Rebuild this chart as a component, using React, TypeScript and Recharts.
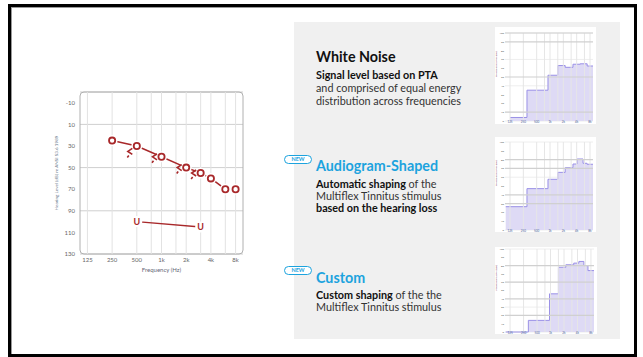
import React from 'react';
import {
  ComposedChart,
  AreaChart,
  Area,
  Line,
  Scatter,
  XAxis,
  YAxis,
  CartesianGrid,
  ReferenceLine,
  ReferenceArea,
  Label,
} from 'recharts';

// audiogram axes
const freqTicks = [125, 250, 500, 1000, 2000, 4000, 8000];
const freqTickLabels = ['125', '250', '500', '1k', '2k', '4k', '8k'];
const gridFreqs = [125, 250, 500, 750, 1000, 1500, 2000, 3000, 4000, 6000, 8000];
const levelTicks = [-10, 10, 30, 50, 70, 90, 110, 130];

// right ear air conduction (O)
const airFreqs = [250, 500, 1000, 2000, 3000, 4000, 6000, 8000];
const airLevels = [25, 30, 40, 50, 55, 60, 70, 70];
// bone conduction (<)
const boneFreqs = [500, 1000, 2000, 3000];
const boneLevels = [35, 40, 50, 55];
// uncomfortable level (U)
const uclFreqs = [500, 3000];
const uclLevels = [100, 105];

// stimulus spectra (step), level in % of the small chart's range
const whiteFreqs = [125, 302, 900, 1500, 2200, 3300, 4800, 6900, 9350];
const whiteLevels = [4, 35, 52, 63, 61, 64.5, 65, 62.5, 62.5];
const shapedFreqs = [100, 302, 900, 1500, 2200, 3300, 4080, 5560, 6860, 9350];
const shapedLevels = [26.5, 47, 57.6, 65.5, 70.8, 75, 80.7, 75.8, 74.7, 74.7];
const customFreqs = [100, 320, 950, 1500, 2200, 3300, 4300, 5560, 6860, 9350];
const customLevels = [0, 14, 46, 78, 81, 83, 85, 80, 74, 74];
const smallLevelTicks = [0, 10, 20, 30, 40, 50, 60, 70, 80, 90, 100];

const RED = '#a8282a';
const BLUE = '#1ca3de';
const FONT = 'Lato, "Open Sans", sans-serif';

const zip = (fs: number[], ls: number[]) => fs.map((f, i) => ({ f, l: ls[i] }));

const RingDot = (props: any) => {
  const { cx, cy, index } = props;
  if (cx == null || cy == null) return null;
  return (
    <g key={'o' + index}>
      <circle cx={cx} cy={cy} r={5.5} fill="#fff" />
      <circle cx={cx} cy={cy} r={3.1} fill="#fff" stroke={RED} strokeWidth={1.8} />
    </g>
  );
};

const UDot = (props: any) => {
  const { cx, cy, index } = props;
  if (cx == null || cy == null) return null;
  return (
    <g key={'u' + index}>
      <circle cx={cx} cy={cy} r={5.5} fill="#fff" />
      <text x={cx} y={cy + 3.2} textAnchor="middle" fontSize={9} fontWeight={700} fill={RED} fontFamily={FONT}>
        U
      </text>
    </g>
  );
};

const BoneShape = (props: any) => {
  const { cx, cy } = props;
  if (cx == null || cy == null) return null;
  const x = cx - 7;
  return (
    <path
      d={`M ${x + 2.5} ${cy - 3} L ${x - 2} ${cy} L ${x + 2.5} ${cy + 3} M ${x - 1} ${cy + 4} L ${x - 2.5} ${cy + 6}`}
      fill="none"
      stroke={RED}
      strokeWidth={1.6}
    />
  );
};

const Audiogram = () => (
  <div style={{ position: 'absolute', left: 40, top: 85 }}>
    <ComposedChart width={215} height={195} margin={{ top: 7, right: 12, bottom: 14, left: 0 }}>
      <CartesianGrid horizontal vertical={false} stroke="#cfcfcf" />
      {gridFreqs.map((f) => (
        <ReferenceLine key={f} x={f} stroke="#e2e2e2" />
      ))}
      <ReferenceArea x1={101.5} x2={9849} y1={-20} y2={130} fill="none" stroke="#b0b0b0" radius={4} />
      <XAxis
        type="number"
        dataKey="f"
        scale="log"
        domain={[101.5, 9849]}
        ticks={freqTicks}
        tickFormatter={(v: number) => freqTickLabels[freqTicks.indexOf(v)] ?? ''}
        axisLine={false}
        tickLine={false}
        tickSize={3}
        tickMargin={1}
        height={12}
        tick={{ fontSize: 6, fill: '#666', fontFamily: FONT }}
        allowDataOverflow
      >
        <Label value="Frequency (Hz)" position="bottom" offset={2} fontSize={6} fill="#667" fontFamily={FONT} />
      </XAxis>
      <YAxis
        type="number"
        dataKey="l"
        reversed
        domain={[-20, 130]}
        ticks={levelTicks}
        axisLine={false}
        tickLine={false}
        tickSize={3}
        tickMargin={2}
        width={40}
        tick={{ fontSize: 6, fill: '#666', fontFamily: FONT }}
        allowDataOverflow
      >
        <Label
          content={({ viewBox }: any) => {
            const cx = viewBox.x + 16.7;
            const cy = viewBox.y + viewBox.height / 2;
            return (
              <text
                x={cx}
                y={cy}
                transform={`rotate(-90 ${cx} ${cy})`}
                textAnchor="middle"
                dominantBaseline="middle"
                fontSize={4.6}
                fill="#6b7a8c"
                fontFamily={FONT}
              >
                Hearing Level (dB) re ANSI S3.6 1989
              </text>
            );
          }}
        />
      </YAxis>
      <Line
        data={zip(uclFreqs, uclLevels)}
        dataKey="l"
        stroke={RED}
        strokeWidth={1.3}
        dot={<UDot />}
        activeDot={false}
        isAnimationActive={false}
      />
      <Line
        data={zip(airFreqs, airLevels)}
        dataKey="l"
        stroke={RED}
        strokeWidth={1.5}
        dot={<RingDot />}
        activeDot={false}
        isAnimationActive={false}
      />
      <Scatter data={zip(boneFreqs, boneLevels)} dataKey="l" shape={<BoneShape />} isAnimationActive={false} />
    </ComposedChart>
  </div>
);

type SmallProps = {
  freqs: number[];
  levels: number[];
  darkLevels: number[];
  left: number;
  top: number;
  width: number;
  height: number;
  plotTop: number;
  plotBottom: number;
};

const SmallChart = ({ freqs, levels, darkLevels, left, top, width, height, plotTop, plotBottom }: SmallProps) => (
  <div style={{ position: 'absolute', left, top, width, height, background: '#fff' }}>
    <AreaChart
      width={width}
      height={height}
      data={zip(freqs, levels)}
      margin={{ top: plotTop, right: 3, bottom: plotBottom, left: 0 }}
    >
      <CartesianGrid horizontal vertical={false} stroke="#eeeeee" />
      {gridFreqs.map((f) => (
        <ReferenceLine key={f} x={f} stroke="#e6e6e6" />
      ))}
      {darkLevels.map((l) => (
        <ReferenceLine key={'d' + l} y={l} stroke="#d0d0d0" strokeWidth={1.2} />
      ))}
      <XAxis
        type="number"
        dataKey="f"
        scale="log"
        domain={[96.3, 9350]}
        ticks={freqTicks}
        tickFormatter={(v: number) => freqTickLabels[freqTicks.indexOf(v)] ?? ''}
        axisLine={false}
        tickLine={false}
        tickSize={0}
        tickMargin={0}
        height={3}
        tick={{ fontSize: 3, fill: '#4a5f9a', fontFamily: FONT }}
        allowDataOverflow
      />
      <YAxis
        type="number"
        domain={[0, 100]}
        ticks={smallLevelTicks}
        axisLine={false}
        tickLine={false}
        tickSize={0}
        tickMargin={1}
        width={10}
        tick={{ fontSize: 2.6, fill: '#555', fontFamily: FONT }}
      >
        <Label value="Presentation level (dB)" angle={-90} position="insideLeft" offset={1} fontSize={2.8} fill="#7a3050" />
      </YAxis>
      <Area
        type="stepAfter"
        dataKey="l"
        stroke="#9a90e6"
        strokeWidth={1}
        fill="#dedaf5"
        fillOpacity={1}
        isAnimationActive={false}
      />
    </AreaChart>
  </div>
);

const Pill = ({ top }: { top: number }) => (
  <div
    style={{
      position: 'absolute',
      left: 284,
      top,
      width: 28,
      height: 9,
      boxSizing: 'border-box',
      border: `1px solid ${BLUE}`,
      borderRadius: 5,
      background: '#fff',
      color: BLUE,
      fontSize: 5.5,
      fontWeight: 700,
      lineHeight: '7px',
      textAlign: 'center',
      fontFamily: FONT,
    }}
  >
    NEW
  </div>
);

export default function App() {
  const body: React.CSSProperties = {
    position: 'absolute',
    left: 316,
    fontSize: 10.8,
    color: '#333',
    fontFamily: FONT,
    whiteSpace: 'nowrap',
  };
  const title: React.CSSProperties = {
    position: 'absolute',
    left: 316,
    fontSize: 14.3,
    lineHeight: '16px',
    fontWeight: 700,
    fontFamily: FONT,
    whiteSpace: 'nowrap',
  };
  return (
    <div style={{ position: 'absolute', left: 0, top: 0, width: 643, height: 357, background: '#fff', overflow: 'hidden' }}>
      <div
        style={{
          position: 'absolute',
          left: 8,
          top: 4,
          width: 629,
          height: 353,
          boxSizing: 'border-box',
          border: '3px solid #000',
          boxShadow: 'inset 1px 1px 0 #999',
        }}
      />
      <Audiogram />
      <div style={{ position: 'absolute', left: 294, top: 22, width: 326, height: 317, background: '#f0f0f0' }} />

      <div style={{ ...title, top: 48.7, color: '#111' }}>White Noise</div>
      <div style={{ ...body, top: 67.5, lineHeight: '13px' }}>
        <b style={{ color: '#111' }}>Signal level based on PTA</b>
        <br />
        and comprised of equal energy
        <br />
        distribution across frequencies
      </div>

      <Pill top={155} />
      <div style={{ ...title, top: 157.7, color: BLUE }}>Audiogram-Shaped</div>
      <div style={{ ...body, top: 178.3, lineHeight: '12px' }}>
        <b style={{ color: '#111' }}>Automatic shaping</b> of the
        <br />
        Multiflex Tinnitus stimulus
        <br />
        <b style={{ color: '#111' }}>based on the hearing loss</b>
      </div>

      <Pill top={265.5} />
      <div style={{ ...title, top: 269.7, color: BLUE }}>Custom</div>
      <div style={{ ...body, top: 288.9, lineHeight: '12.3px' }}>
        <b style={{ color: '#111' }}>Custom shaping</b> of the the
        <br />
        Multiflex Tinnitus stimulus
      </div>

      <SmallChart
        freqs={whiteFreqs}
        levels={whiteLevels}
        darkLevels={[10, 50, 90, 100]}
        left={495}
        top={27}
        width={101}
        height={97}
        plotTop={6}
        plotBottom={0}
      />
      <SmallChart
        freqs={shapedFreqs}
        levels={shapedLevels}
        darkLevels={[30, 40, 70, 80]}
        left={495}
        top={137}
        width={101}
        height={95}
        plotTop={5}
        plotBottom={-1}
      />
      <SmallChart
        freqs={customFreqs}
        levels={customLevels}
        darkLevels={[20, 40, 60, 80]}
        left={495}
        top={247}
        width={102}
        height={87}
        plotTop={2}
        plotBottom={-1}
      />
    </div>
  );
}
